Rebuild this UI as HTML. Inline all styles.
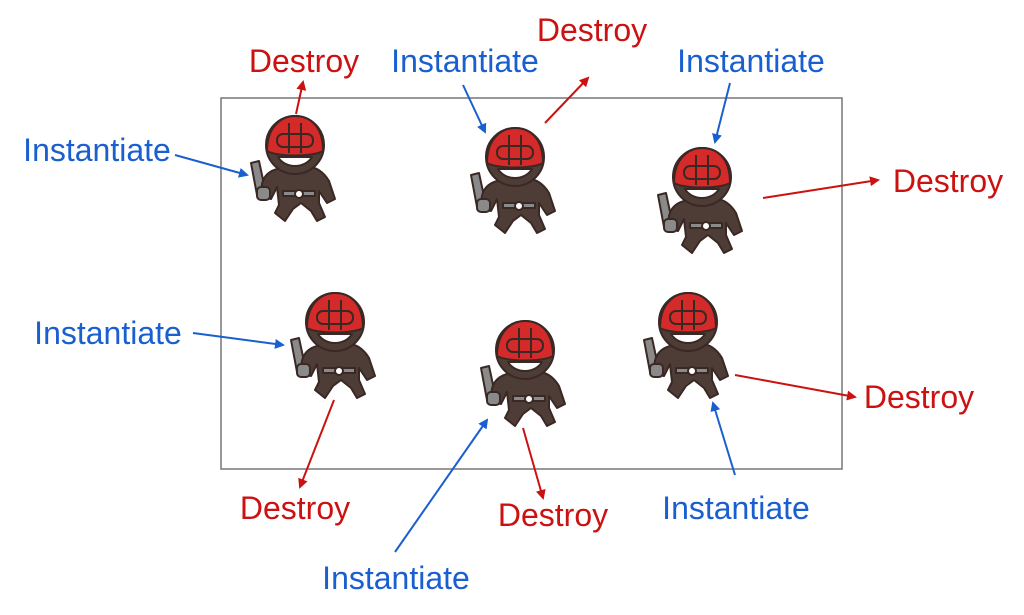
<!DOCTYPE html>
<html><head><meta charset="utf-8"><style>
html,body{margin:0;padding:0;background:#fff;}
svg{display:block;}
text{font-family:"Liberation Sans",sans-serif;font-size:32px;}
</style></head><body>
<svg width="1024" height="615" viewBox="0 0 1024 615">
<defs>
<marker id="ab" markerWidth="10" markerHeight="10" refX="8" refY="5" orient="auto" markerUnits="userSpaceOnUse"><path d="M0,0 L10,5 L0,10 z" fill="#1a5fd0"/></marker>
<marker id="ar" markerWidth="10" markerHeight="10" refX="8" refY="5" orient="auto" markerUnits="userSpaceOnUse"><path d="M0,0 L10,5 L0,10 z" fill="#cc1111"/></marker>
<g id="n" stroke="#3a2824" stroke-width="2" stroke-linejoin="round">
<path d="M-44,18 L-36,16 L-30,44 L-38,50 Z" fill="#8a8a8a"/>
<path d="M-18,24 C-32,28 -36,40 -32,52 L-24,54 L-18,42 L-16,60 L-20,68 L-10,76 L-2,64 L6,58 L16,66 L22,76 L30,72 L24,58 L24,46 L32,58 L40,54 L34,36 C28,26 20,22 14,22 Z" fill="#4e3d37"/>
<rect x="-38" y="42" width="13" height="13" rx="4" fill="#8a8a8a"/>
<rect x="-12" y="46" width="32" height="5" fill="#8a8a8a"/>
<circle cx="4" cy="49" r="4" fill="#fff"/>
<circle cx="0" cy="0" r="29" fill="#4e3d37"/>
<path d="M-28,6 C-28,-20 -12,-29 0,-29 C14,-29 28,-20 28,6 C18,12 -18,12 -28,6 Z" fill="#d42a2a"/>
<rect x="-18" y="-11" width="36" height="13" rx="6" fill="none"/>
<path d="M-6,-22 V8 M6,-22 V8" fill="none"/>
<path d="M-17,12 C-10,24 10,24 17,12 Z" fill="#fff"/>
</g>
</defs>
<rect x="221" y="98" width="621" height="371" fill="none" stroke="#777" stroke-width="1.5"/>
<use href="#n" x="295" y="145"/>
<use href="#n" x="515" y="157"/>
<use href="#n" x="702" y="177"/>
<use href="#n" x="335" y="322"/>
<use href="#n" x="525" y="350"/>
<use href="#n" x="688" y="322"/>
<g stroke="#1a5fd0" stroke-width="2" marker-end="url(#ab)">
<line x1="175" y1="155" x2="247" y2="175"/>
<line x1="463" y1="85" x2="485" y2="132"/>
<line x1="730" y1="83" x2="715" y2="142"/>
<line x1="193" y1="333" x2="283" y2="345"/>
<line x1="395" y1="552" x2="487" y2="420"/>
<line x1="735" y1="475" x2="713" y2="403"/>
</g>
<g stroke="#cc1111" stroke-width="2" marker-end="url(#ar)">
<line x1="296" y1="114" x2="303" y2="82"/>
<line x1="545" y1="123" x2="588" y2="78"/>
<line x1="763" y1="198" x2="878" y2="180"/>
<line x1="334" y1="400" x2="300" y2="487"/>
<line x1="523" y1="428" x2="543" y2="498"/>
<line x1="735" y1="375" x2="855" y2="397"/>
</g>
<g fill="#cc1111" text-anchor="middle" dominant-baseline="central">
<text x="304" y="61">Destroy</text>
<text x="592" y="30">Destroy</text>
<text x="948" y="181">Destroy</text>
<text x="919" y="397">Destroy</text>
<text x="295" y="508">Destroy</text>
<text x="553" y="515">Destroy</text>
</g>
<g fill="#1a5fd0" text-anchor="middle" dominant-baseline="central">
<text x="465" y="61">Instantiate</text>
<text x="751" y="61">Instantiate</text>
<text x="97" y="150">Instantiate</text>
<text x="108" y="333">Instantiate</text>
<text x="736" y="508">Instantiate</text>
<text x="396" y="578">Instantiate</text>
</g>
</svg>
</body></html>
